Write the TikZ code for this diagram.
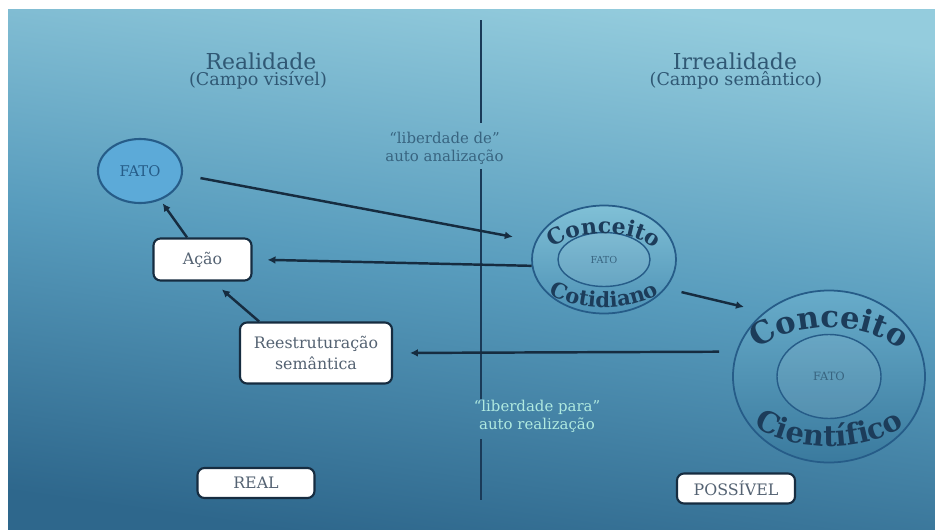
\documentclass[tikz,border=0pt]{standalone}
\usepackage{fontspec}
\setmainfont{DejaVu Serif}
\usetikzlibrary{arrows.meta, shapes.geometric, decorations.text}

\definecolor{bgtop}{RGB}{148,204,221}
\definecolor{bgmid}{RGB}{88,156,189}
\definecolor{bgbot}{RGB}{46,103,140}
\definecolor{navy}{RGB}{22,44,64}
\definecolor{divline}{RGB}{26,58,88}
\definecolor{headtxt}{RGB}{48,88,116}
\definecolor{boxtxt}{RGB}{84,98,114}
\definecolor{fatofill}{RGB}{92,170,216}
\definecolor{fatoline}{RGB}{38,92,136}
\definecolor{conctxt}{RGB}{28,60,90}
\definecolor{detxt}{RGB}{56,100,128}
\definecolor{paratxt}{RGB}{176,234,224}

\begin{document}
\begin{tikzpicture}[
		textbox/.style={rectangle,rounded corners=4pt,draw=navy,line width=1.2pt,fill=white,
			text=boxtxt,font=\fontsize{9}{11.8}\selectfont,align=center},
		fatovertex/.style={ellipse,draw=fatoline,line width=1.2pt,fill=fatofill,inner sep=0pt,
			text=fatoline,font=\fontsize{8.4}{10}\selectfont},
		outerconcept/.style={ellipse,draw=fatoline,line width=1pt,inner sep=0pt},
		innerconcept/.style={ellipse,draw=fatoline,line width=0.8pt,inner sep=0pt,
			fill=white,fill opacity=0.08,text opacity=1,text=detxt},
		heading/.style={text=headtxt},
		arr/.style={-{Latex[length=4.5pt,width=4.5pt]},line width=1.4pt,draw=navy},
		curvetext/.style 2 args={decorate,decoration={text along path,text align=center,
			text color=conctxt,text={|\fontsize{#1}{#1}\bfseries\selectfont|#2}}},
		node distance=1cm
		]

		% fundo
		\useasboundingbox (0,0) rectangle (18.7,10.58);
		\fill[white] (0,0) rectangle (18.7,10.58);
		\shade[top color=bgtop,bottom color=bgbot,middle color=bgmid,shading angle=-8]
			(0.16,0) rectangle (18.7,10.40);

		% divisoria
		\coordinate (V0) at (9.62,10.18);
		\coordinate (V1) at (9.62,8.12);
		\coordinate (V2) at (9.62,7.20);
		\coordinate (V3) at (9.62,2.60);
		\coordinate (V4) at (9.62,1.80);
		\coordinate (V5) at (9.62,0.58);
		\draw[divline,line width=1.7pt] (V0) -- (V1) (V2) -- (V3) (V4) -- (V5);

		\node[heading,font=\fontsize{12.5}{14}\selectfont] (H0) at (5.22,9.36) {Realidade};
		\node[heading,font=\fontsize{10}{12}\selectfont,below of = H0,xshift=-0.06cm,
			yshift=0.62cm] (H1) {(Campo visível)};
		\node[heading,font=\fontsize{12.5}{14}\selectfont] (H2) at (14.70,9.36) {Irrealidade};
		\node[heading,font=\fontsize{10}{12}\selectfont,below of = H2,xshift=0.02cm,
			yshift=0.62cm] (H3) {(Campo semântico)};

		\node[text=detxt,align=center,font=\fontsize{8.5}{10.2}\selectfont] (L0) at (8.89,7.62)
			{“liberdade de”\\auto analização};
		\node[text=paratxt,align=center,font=\fontsize{8.5}{10.2}\selectfont] (L1) at (10.74,2.26)
			{“liberdade para”\\auto realização};

		% lado real
		\node[fatovertex,minimum width=1.68cm,minimum height=1.28cm] (F0) at (2.80,7.16) {FATO};
		\node[textbox,minimum width=1.96cm,minimum height=0.84cm,below of = F0,xshift=1.25cm,
			yshift=-0.77cm] (A0) {Ação};
		\node[textbox,minimum width=3.04cm,minimum height=1.22cm,below of = A0,xshift=2.27cm,
			yshift=-0.87cm] (R0) {Reestruturação\\semântica};
		\node[textbox,minimum width=2.34cm,minimum height=0.6cm,below of = R0,xshift=-1.2cm,
			yshift=-1.6cm] (B1) {REAL};

		% lado possivel
		\node[outerconcept,top color={rgb,255:red,128;green,192;blue,214},
			bottom color={rgb,255:red,78;green,146;blue,182},
			minimum width=2.88cm,minimum height=2.16cm,right of = A0,xshift=7.03cm] (C1) {};
		\node[innerconcept,minimum width=1.84cm,minimum height=1.08cm,
			font=\fontsize{5.5}{6}\selectfont] (K1) at (C1) {FATO};
		\node[outerconcept,top color={rgb,255:red,104;green,172;blue,202},
			bottom color={rgb,255:red,58;green,122;blue,158},
			minimum width=3.84cm,minimum height=3.44cm,below of = C1,xshift=4.5cm,
			yshift=-1.34cm] (C2) {};
		\node[innerconcept,minimum width=2.08cm,minimum height=1.68cm,
			font=\fontsize{6.5}{7}\selectfont] (K2) at (C2) {FATO};
		\node[textbox,minimum width=2.36cm,minimum height=0.6cm,below of = C2,xshift=-1.86cm,
			yshift=-1.24cm] (B2) {POSSÍVEL};

		\path[curvetext={12.5}{Conceito}] ([shift={(165:1.12cm and 0.52cm)}]C1.center)
			arc[start angle=165,end angle=15,x radius=1.12cm,y radius=0.52cm];
		\path[curvetext={12}{Cotidiano}] ([shift={(208:1.6cm and 0.96cm)}]C1.center)
			arc[start angle=208,end angle=332,x radius=1.6cm,y radius=0.96cm];
		\path[curvetext={17.5}{Conceito}] ([shift={(165:1.7cm and 0.98cm)}]C2.center)
			arc[start angle=165,end angle=15,x radius=1.7cm,y radius=0.98cm];
		\path[curvetext={16.5}{Científico}] ([shift={(208:2.15cm and 1.4cm)}]C2.center)
			arc[start angle=208,end angle=332,x radius=2.15cm,y radius=1.4cm];

		% setas
		\draw[arr,shorten <=0.36cm,shorten >=0.46cm] (F0.-5) -- (C1.165);
		\draw[arr,shorten >=0.30cm] (C1.185) -- (A0.east);
		\draw[arr,shorten >=0.08cm] (A0.125) -- (F0.-55);
		\draw[arr,shorten >=0.24cm] (R0.151) -- (A0.-65);
		\draw[arr,shorten <=0.34cm,shorten >=0.34cm] (C2.165) -- (R0.east);
		\draw[arr,shorten <=0.32cm,shorten >=0.42cm] (C1.-25) -- (C2.135);
	\end{tikzpicture}
\end{document}
